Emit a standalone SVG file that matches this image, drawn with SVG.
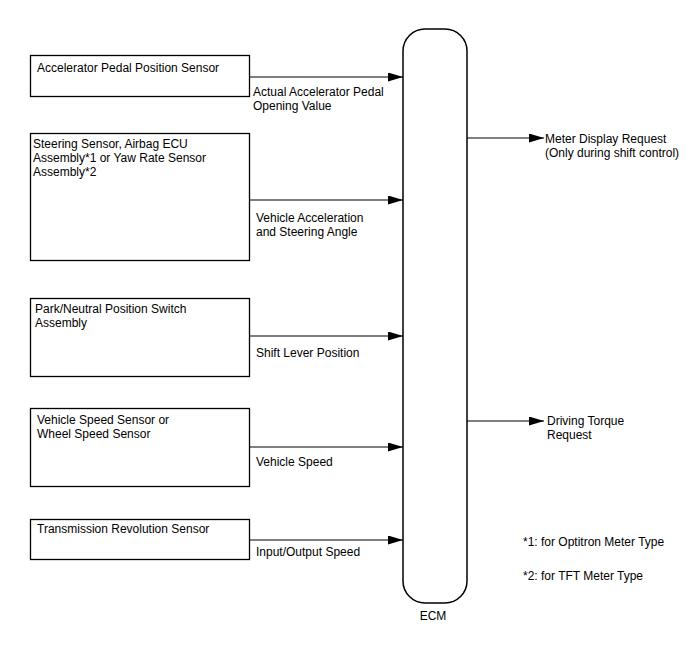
<svg xmlns="http://www.w3.org/2000/svg" width="688" height="658" viewBox="0 0 688 658">
<defs>
<marker id="ah" markerWidth="15" markerHeight="9" refX="15" refY="4.5" orient="auto" markerUnits="userSpaceOnUse">
<path d="M0,0 L15,4.5 L0,9 Z" fill="#000"/>
</marker>
<style>
text{font-family:"Liberation Sans",Arial,sans-serif;font-size:12px;fill:#000}
.box{fill:#fff;stroke:#000;stroke-width:1.3}
.conn{stroke:#000;stroke-width:1.2;fill:none;marker-end:url(#ah)}
</style>
</defs>
<rect width="688" height="658" fill="#fff"/>
<g id="connectors">
<line class="conn" x1="249" y1="77" x2="403" y2="77"/>
<line class="conn" x1="249" y1="200" x2="403" y2="200"/>
<line class="conn" x1="249" y1="336" x2="403" y2="336"/>
<line class="conn" x1="249" y1="447" x2="403" y2="447"/>
<line class="conn" x1="249" y1="540" x2="403" y2="540"/>
<line class="conn" x1="467" y1="138" x2="544" y2="138"/>
<line class="conn" x1="467" y1="421" x2="544" y2="421"/>
<text x="253" y="96">Actual Accelerator Pedal</text>
<text x="253" y="110">Opening Value</text>
<text x="256" y="222">Vehicle Acceleration</text>
<text x="256" y="236">and Steering Angle</text>
<text x="256" y="357">Shift Lever Position</text>
<text x="256" y="466">Vehicle Speed</text>
<text x="256" y="556">Input/Output Speed</text>
<text x="545" y="143">Meter Display Request</text>
<text x="545" y="157">(Only during shift control)</text>
<text x="547" y="425">Driving Torque</text>
<text x="547" y="439">Request</text>
</g>
<g id="apps">
<rect class="box" x="30.5" y="55.5" width="219" height="41"/>
<text x="37" y="72">Accelerator Pedal Position Sensor</text>
</g>
<g id="steering">
<rect class="box" x="30.5" y="133.5" width="219" height="127"/>
<text x="33" y="148">Steering Sensor, Airbag ECU</text>
<text x="33" y="162">Assembly*1 or Yaw Rate Sensor</text>
<text x="33" y="176">Assembly*2</text>
</g>
<g id="pnp">
<rect class="box" x="30.5" y="298.5" width="219" height="78"/>
<text x="35" y="313">Park/Neutral Position Switch</text>
<text x="35" y="327">Assembly</text>
</g>
<g id="speed">
<rect class="box" x="30.5" y="408.5" width="219" height="78"/>
<text x="37" y="424">Vehicle Speed Sensor or</text>
<text x="37" y="438">Wheel Speed Sensor</text>
</g>
<g id="trans">
<rect class="box" x="30.5" y="519.5" width="219" height="40"/>
<text x="37" y="533">Transmission Revolution Sensor</text>
</g>
<g id="ecm">
<rect x="403" y="29" width="64" height="574" rx="22" ry="22" fill="#fff" stroke="#000" stroke-width="1.5"/>
<text x="433" y="620" text-anchor="middle">ECM</text>
</g>
<g id="notes">
<text x="523" y="546">*1: for Optitron Meter Type</text>
<text x="523" y="580">*2: for TFT Meter Type</text>
</g>
</svg>
